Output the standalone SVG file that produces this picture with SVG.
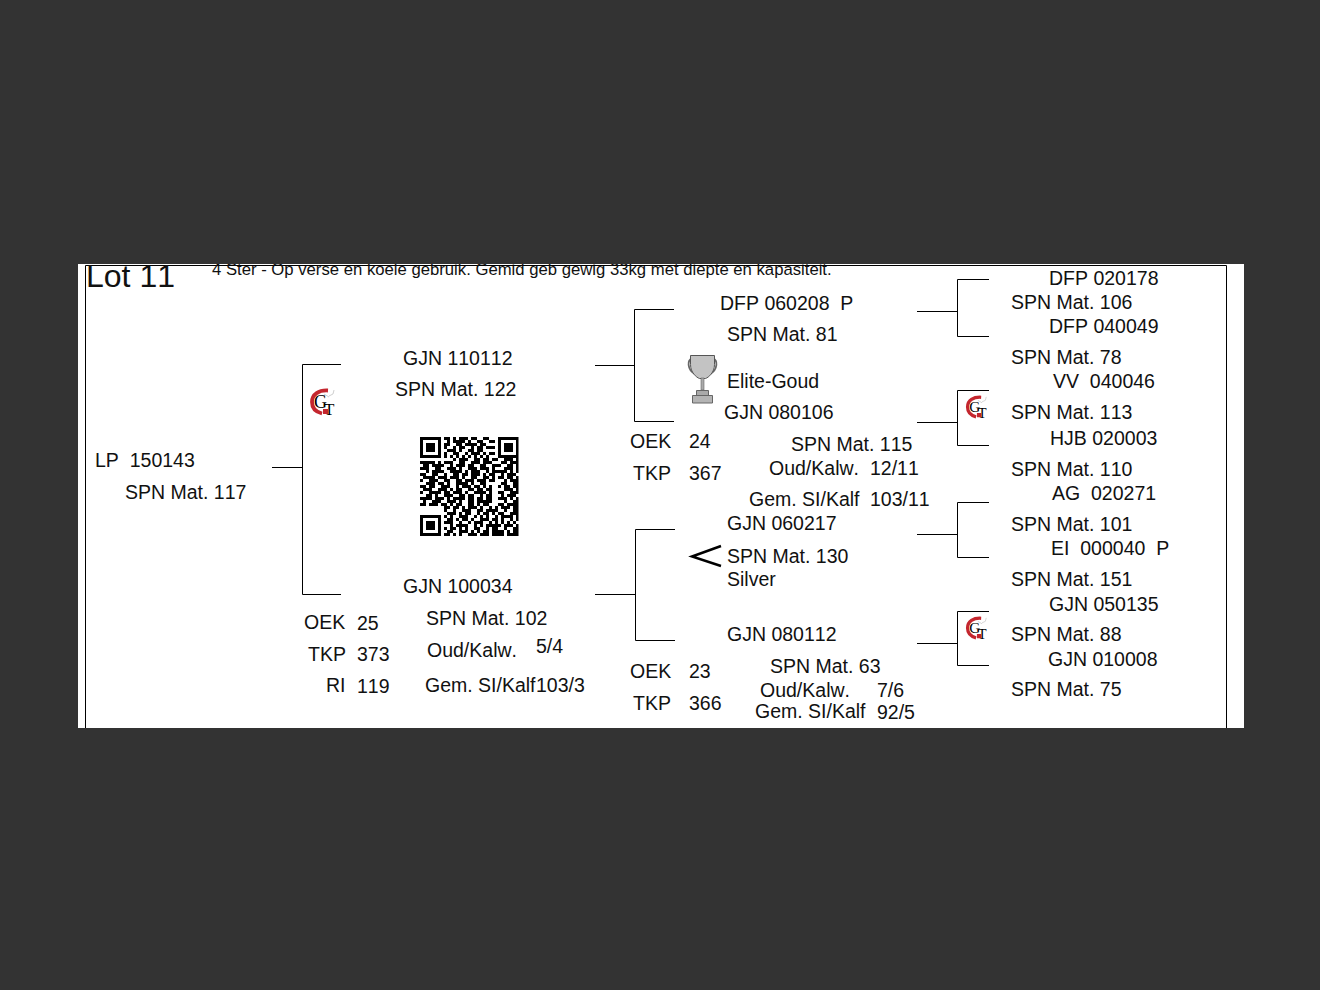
<svg xmlns="http://www.w3.org/2000/svg" width="1320" height="990" viewBox="0 0 1320 990">
<style>
text{font-family:"Liberation Sans",Arial,sans-serif;font-size:19.5px;fill:#111;white-space:pre;font-kerning:none}
.c{fill:none;stroke:#000;stroke-width:1}
</style>
<defs>
<clipPath id="page"><rect x="78" y="264" width="1166" height="464"/></clipPath>
<clipPath id="qrclip"><rect x="420" y="437" width="98.500" height="99"/></clipPath>
<g id="gt">
<path d="M19 1.500C10 1 3 5 3 13C3 19 7 23 13 24.500" fill="none" stroke="#c4262e" stroke-width="3.800"/>
<path d="M14 20h5v5h-5z" fill="#c4262e"/>
<path d="M20 7l4-2l1-4M15 5l5 3" fill="none" stroke="#bbb" stroke-width=".7"/>
<text x="5" y="18.500" style="font-family:'Liberation Serif',serif;font-size:18px;fill:#000">G</text>
<text x="15" y="26" style="font-family:'Liberation Serif',serif;font-size:17px;fill:#000">T</text>
</g>
</defs>
<rect width="1320" height="990" fill="#333"/>
<rect x="78" y="264" width="1166" height="464" fill="#fff"/>
<g clip-path="url(#page)">
<path class="c" d="M85.500 728V265.500H1226.500V728"/>
<text x="86" y="287" style="font-size:32px">Lot 11</text>
<text x="212" y="275" style="font-size:16.7px">4 Ster - Op verse en koele gebruik. Gemid geb gewig 33kg met diepte en kapasiteit.</text>
</g>
<g id="connectors">
<path class="c" d="M272 467.500H302.500M341 364.500H302.500V594.500H341"/>
<path class="c" d="M595 365.500H634.500M674 309.500H634.500V421.500H674"/>
<path class="c" d="M595 594.500H635.500M675 529.500H635.500V640.500H675"/>
<path class="c" d="M917 311.500H957.500M989 279.500H957.500V336.500H989"/>
<path class="c" d="M917 422.500H957.500M989 390.500H957.500V445.500H989"/>
<path class="c" d="M917 534.500H957.500M989 502.500H957.500V557.500H989"/>
<path class="c" d="M917 643.500H957.500M989 611.500H957.500V665.500H989"/>
</g>
<g id="n-root"><text x="95" y="467">LP  150143</text><text x="125" y="499">SPN Mat. 117</text></g>
<g id="n-sire"><text x="403" y="365">GJN 110112</text><text x="395" y="396">SPN Mat. 122</text></g>
<g id="n-dam"><text x="403" y="593">GJN 100034</text><text x="426" y="625">SPN Mat. 102</text><text x="427" y="657">Oud/Kalw.</text><text x="536" y="653">5/4</text><text x="425" y="692">Gem. SI/Kalf</text><text x="536" y="692">103/3</text></g>
<g id="n-damstats"><text x="304" y="629">OEK</text><text x="357" y="630">25</text><text x="308" y="661">TKP</text><text x="357" y="661">373</text><text x="326" y="692">RI</text><text x="357" y="693">119</text></g>
<g id="n-ss"><text x="720" y="310">DFP 060208  P</text><text x="727" y="341">SPN Mat. 81</text></g>
<g id="n-sd"><text x="727" y="388">Elite-Goud</text><text x="724" y="419">GJN 080106</text><text x="791" y="451">SPN Mat. 115</text><text x="769" y="475">Oud/Kalw.</text><text x="870" y="475">12/11</text><text x="749" y="506">Gem. SI/Kalf</text><text x="870" y="506">103/11</text></g>
<g id="n-sdstats"><text x="630" y="448">OEK</text><text x="689" y="448">24</text><text x="633" y="480">TKP</text><text x="689" y="480">367</text></g>
<g id="n-ds"><text x="727" y="530">GJN 060217</text><text x="727" y="563">SPN Mat. 130</text><text x="727" y="586">Silver</text></g>
<g id="n-dd"><text x="727" y="641">GJN 080112</text><text x="770" y="673">SPN Mat. 63</text><text x="760" y="697">Oud/Kalw.</text><text x="877" y="697">7/6</text><text x="755" y="718">Gem. SI/Kalf</text><text x="877" y="719">92/5</text></g>
<g id="n-ddstats"><text x="630" y="678">OEK</text><text x="689" y="678">23</text><text x="633" y="710">TKP</text><text x="689" y="710">366</text></g>
<g id="n-gen3">
<text x="1049" y="285">DFP 020178</text><text x="1011" y="309">SPN Mat. 106</text><text x="1049" y="333">DFP 040049</text><text x="1011" y="364">SPN Mat. 78</text>
<text x="1053" y="388">VV  040046</text><text x="1011" y="419">SPN Mat. 113</text><text x="1050" y="445">HJB 020003</text><text x="1011" y="476">SPN Mat. 110</text>
<text x="1052" y="500">AG  020271</text><text x="1011" y="531">SPN Mat. 101</text><text x="1051" y="555">EI  000040  P</text><text x="1011" y="586">SPN Mat. 151</text>
<text x="1049" y="611">GJN 050135</text><text x="1011" y="641">SPN Mat. 88</text><text x="1048" y="666">GJN 010008</text><text x="1011" y="696">SPN Mat. 75</text>
</g>
<g id="logos">
<use href="#gt" x="309" y="389"/><use href="#gt" transform="translate(965 396) scale(.85)"/><use href="#gt" transform="translate(965 617) scale(.85)"/>
</g>
<g id="qr" fill="none" stroke="#000" clip-path="url(#qrclip)">
<path stroke-width="3" d="M421.500 438.500h18v18h-18zM499.500 438.500h18v18h-18zM421.500 516.500h18v18h-18z"/>
<path fill="#000" stroke="none" d="M426 443h9v9h-9zM504 443h9v9h-9zM426 521h9v9h-9z"/>
<path stroke-width="3" d="M444 438.500h6m3 0h3m3 0h9m3 0h6m6 0h6M447 441.500h3m3 0h12m3 0h3m6 0h6M444 444.500h6m6 0h6m3 0h12m3 0h6M444 447.500h3m6 0h3m3 0h6m6 0h3m3 0h6M447 450.500h9m3 0h3m6 0h6m3 0h6M444 453.500h3m6 0h6m6 0h3m3 0h9m3 0h3M444 456.500h3m3 0h3m3 0h3m3 0h3m3 0h3m3 0h3m3 0h3m3 0h3M453 459.500h3m3 0h9m6 0h6m3 0h3M420 462.500h15m3 0h3m3 0h9m6 0h6m6 0h9m3 0h9M423 465.500h6m3 0h12m6 0h3m3 0h9m3 0h6m6 0h6m6 0h6M420 468.500h9m6 0h6m6 0h9m3 0h3m6 0h9m3 0h9m3 0h3M426 471.500h3m3 0h12m6 0h12m3 0h3m3 0h9m6 0h3m3 0h6M420 474.500h6m6 0h6m6 0h3m6 0h6m3 0h6m3 0h9m3 0h3m3 0h6M423 477.500h12m3 0h9m3 0h9m3 0h3m6 0h6m6 0h6m3 0h3M420 480.500h3m6 0h9m6 0h6m6 0h6m3 0h9m3 0h9m3 0h6M426 483.500h9m3 0h6m3 0h3m6 0h12m3 0h3m6 0h6M420 486.500h6m3 0h6m6 0h9m6 0h3m3 0h9m3 0h6m3 0h3m3 0h3M423 489.500h9m6 0h9m3 0h3m3 0h6m6 0h6m3 0h6m3 0h6M420 492.500h3m6 0h12m3 0h6m3 0h9m3 0h3m6 0h12m3 0h3M426 495.500h6m3 0h3m6 0h9m6 0h6m3 0h6m6 0h3m3 0h6M420 498.500h12m3 0h9m3 0h3m3 0h12m3 0h6m3 0h6m3 0h6M423 501.500h3m6 0h9m6 0h9m3 0h3m6 0h6m3 0h15M420 504.500h6m3 0h9m3 0h6m3 0h3m3 0h6m6 0h6m3 0h3m3 0h6M444 507.500h6m3 0h6m3 0h3m3 0h9m3 0h3m6 0h3m3 0h3M444 510.500h3m6 0h3m6 0h9m6 0h6m3 0h12M447 513.500h9m3 0h3m3 0h6m6 0h3m3 0h6m3 0h3m3 0h3M444 516.500h3m3 0h3m6 0h9m6 0h3m3 0h3m3 0h3M447 519.500h6m3 0h3m3 0h6m3 0h3m6 0h9m3 0h6M444 522.500h9m6 0h3m6 0h3m3 0h9m6 0h3m3 0h3M450 525.500h3m3 0h12m6 0h3m3 0h3m3 0h12M444 528.500h3m3 0h6m3 0h3m3 0h3m6 0h6m6 0h3m3 0h6M447 531.500h6m6 0h9m3 0h3m3 0h3m3 0h6m3 0h9M444 534.500h6m3 0h3m3 0h3m6 0h9m3 0h9m3 0h6"/>
<path stroke-width="3" d="M489 441.500h6M486 447.500h9M489 453.500h6M486 459.500h3m3 0h6m6 0h9m3 0h3M501 462.500h6m3 0h9M498 465.500h3m6 0h6m3 0h3M504 468.500h9m3 0h3M498 471.500h9m3 0h3m3 0h3M501 474.500h3m3 0h9M498 477.500h6m3 0h6m3 0h3M504 480.500h3m3 0h9M501 483.500h6m6 0h6M498 486.500h3m3 0h6m3 0h6M504 489.500h9m3 0h3M498 492.500h6m6 0h9M501 495.500h3m3 0h9M498 498.500h9m3 0h3m3 0h3M504 501.500h3m6 0h6M498 504.500h6m3 0h12M501 507.500h9m3 0h6M495 510.500h3m6 0h3m6 0h6M498 513.500h6m6 0h9M495 516.500h3m3 0h12m3 0h3M492 519.500h6m3 0h3m6 0h3m3 0h3M495 522.500h3m3 0h3m3 0h3m3 0h3m3 0h3M498 525.500h3m3 0h9m3 0h3M492 528.500h6m6 0h3m6 0h6M495 531.500h9m3 0h3m3 0h6M498 534.500h6m3 0h12"/>
</g>
<g id="trophy">
<path d="M692 359c-5 0-5 11 3 15M713 359c5 0 5 11-3 15" fill="none" stroke="#666" stroke-width="1.800"/>
<path d="M690.500 355.500h24v9c0 8-6 13-9 14h-6c-3-1-9-6-9-14z" fill="#c3c3c3" stroke="#555"/>
<path d="M701 378h3v12h-3z" fill="#aaa" stroke="#666" stroke-width=".6"/>
<path d="M696.500 390.500h12v5h-12z" fill="#aaa" stroke="#666"/>
<path d="M692.500 395.500h20v7.500h-20z" fill="#b4b4b4" stroke="#666"/>
</g>
<path id="chev" d="M721 546L692 556.500L721 566" fill="none" stroke="#000" stroke-width="2.500"/>
</svg>
